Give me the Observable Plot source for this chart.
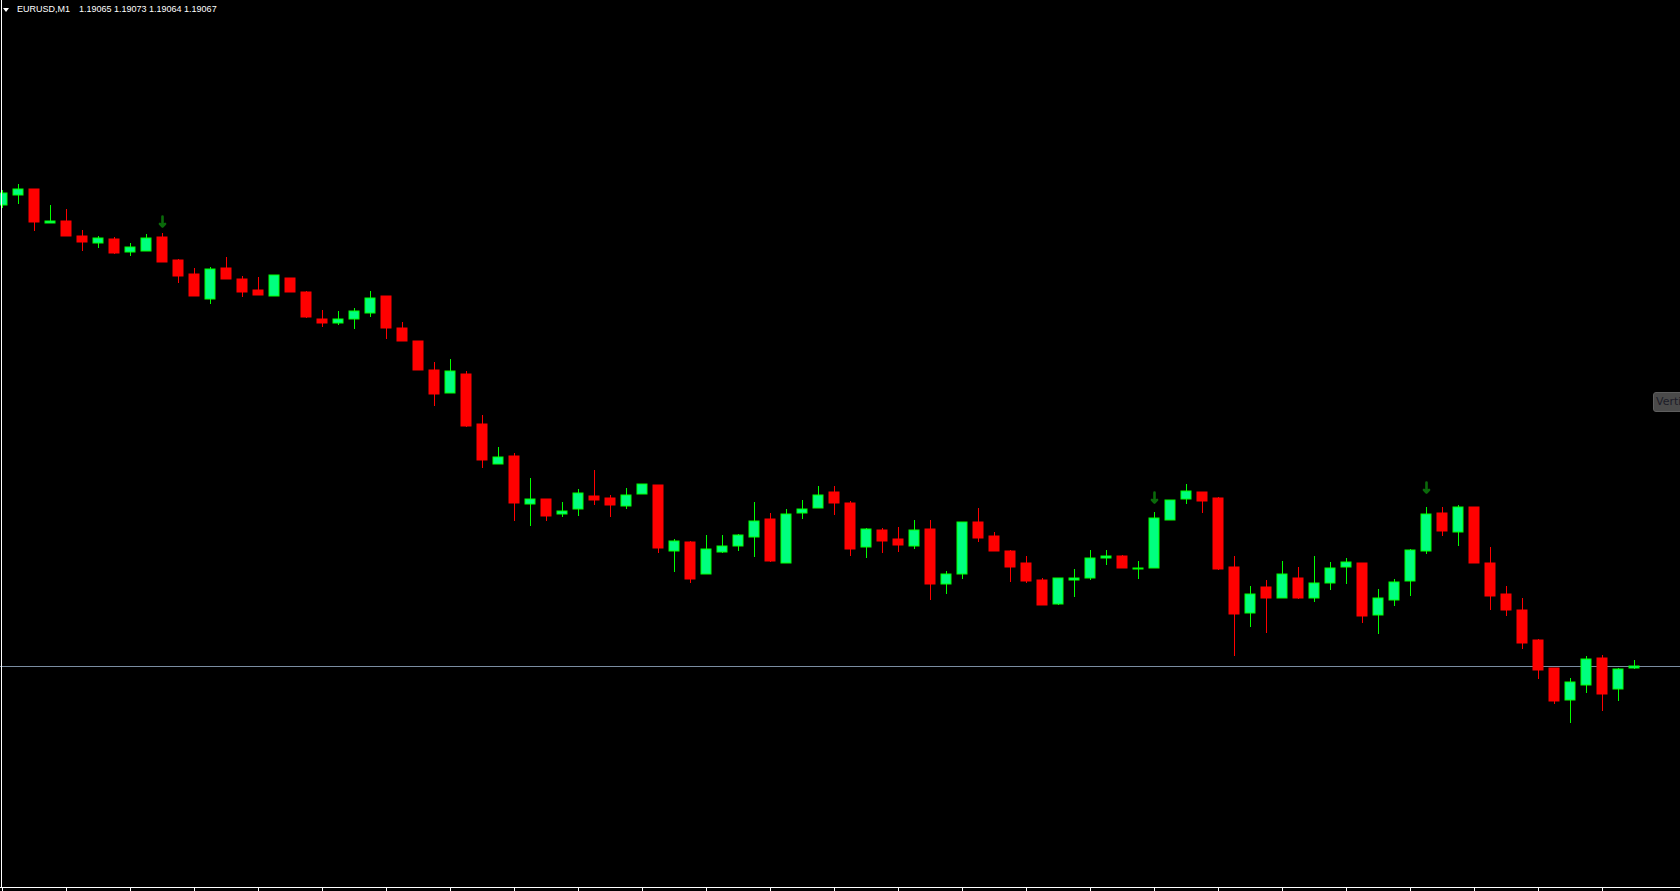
<!DOCTYPE html>
<html>
<head>
<meta charset="utf-8">
<script src="https://cdn.jsdelivr.net/npm/d3@7"></script>
<script src="https://cdn.jsdelivr.net/npm/@observablehq/plot@0.6"></script>
<style>
  html, body { margin: 0; padding: 0; background: #000; overflow: hidden; width: 1680px; height: 891px; }
  #wrap { position: relative; width: 1680px; height: 891px; background: #000; }
  #wrap svg { position: absolute; left: 0; top: 0; display: block; }
  #title { position: absolute; left: 0; top: 0; height: 16px; font: 9px "Liberation Sans", Arial, sans-serif; color: #fff; white-space: pre; }
  #tri { position: absolute; left: 3px; top: 8px; width: 0; height: 0; border-left: 3.5px solid transparent; border-right: 3.5px solid transparent; border-top: 4px solid #fff; }
  #sym { position: absolute; left: 17px; top: 4px; }
  #ohlc { position: absolute; left: 79px; top: 4px; }
  #tip { position: absolute; left: 1653px; top: 392px; width: 60px; height: 18px; background: #4a4a4a; border: 1px solid #5e5e5e; border-radius: 3px; color: #1c1c28; font: 11px "DejaVu Sans", sans-serif; line-height: 18px; padding-left: 2px; white-space: nowrap; overflow: hidden; }
</style>
</head>
<body>
<div id="wrap">
  <div id="title"><div id="tri"></div><span id="sym"></span><span id="ohlc"></span></div>
  <div id="tip"></div>
</div>
<script>
// ---- data ----
const symbol = "EURUSD,M1";
const tipText = "Vertical Line";
const open = [
  1.19528, 1.19538, 1.19544, 1.19510, 1.19512, 1.19497, 1.19490, 1.19494, 1.19481, 1.19482,
  1.19496, 1.19473, 1.19459, 1.19434, 1.19465, 1.19454, 1.19443, 1.19437, 1.19455, 1.19441,
  1.19414, 1.19410, 1.19414, 1.19420, 1.19437, 1.19405, 1.19392, 1.19363, 1.19340, 1.19359,
  1.19309, 1.19269, 1.19277, 1.19229, 1.19234, 1.19219, 1.19224, 1.19237, 1.19235, 1.19227,
  1.19239, 1.19248, 1.19182, 1.19191, 1.19159, 1.19181, 1.19187, 1.19196, 1.19214, 1.19170,
  1.19220, 1.19225, 1.19241, 1.19230, 1.19186, 1.19203, 1.19194, 1.19187, 1.19204, 1.19149,
  1.19159, 1.19211, 1.19197, 1.19182, 1.19170, 1.19153, 1.19129, 1.19153, 1.19155, 1.19175,
  1.19177, 1.19164, 1.19165, 1.19213, 1.19234, 1.19241, 1.19235, 1.19166, 1.19120, 1.19146,
  1.19135, 1.19155, 1.19135, 1.19150, 1.19166, 1.19170, 1.19118, 1.19133, 1.19152, 1.19182,
  1.19220, 1.19201, 1.19226, 1.19170, 1.19139, 1.19123, 1.19093, 1.19065, 1.19033, 1.19048,
  1.19075, 1.19044, 1.19065
];
const high = [
  1.19543, 1.19549, 1.19544, 1.19528, 1.19524, 1.19503, 1.19497, 1.19496, 1.19490, 1.19499,
  1.19500, 1.19474, 1.19465, 1.19466, 1.19476, 1.19457, 1.19456, 1.19458, 1.19455, 1.19442,
  1.19423, 1.19422, 1.19425, 1.19442, 1.19437, 1.19411, 1.19392, 1.19371, 1.19374, 1.19362,
  1.19318, 1.19286, 1.19280, 1.19255, 1.19234, 1.19231, 1.19244, 1.19263, 1.19238, 1.19245,
  1.19249, 1.19248, 1.19194, 1.19192, 1.19198, 1.19198, 1.19199, 1.19231, 1.19220, 1.19224,
  1.19233, 1.19247, 1.19247, 1.19232, 1.19205, 1.19205, 1.19206, 1.19213, 1.19213, 1.19162,
  1.19211, 1.19225, 1.19201, 1.19183, 1.19177, 1.19155, 1.19155, 1.19164, 1.19183, 1.19183,
  1.19178, 1.19172, 1.19221, 1.19233, 1.19249, 1.19241, 1.19236, 1.19177, 1.19147, 1.19153,
  1.19172, 1.19166, 1.19177, 1.19171, 1.19175, 1.19170, 1.19144, 1.19154, 1.19184, 1.19226,
  1.19226, 1.19228, 1.19226, 1.19186, 1.19147, 1.19135, 1.19094, 1.19065, 1.19055, 1.19077,
  1.19078, 1.19065, 1.19073
];
const low = [
  1.19525, 1.19529, 1.19502, 1.19510, 1.19497, 1.19482, 1.19485, 1.19479, 1.19477, 1.19482,
  1.19471, 1.19450, 1.19437, 1.19429, 1.19454, 1.19436, 1.19438, 1.19437, 1.19441, 1.19415,
  1.19406, 1.19408, 1.19404, 1.19416, 1.19394, 1.19392, 1.19363, 1.19327, 1.19340, 1.19306,
  1.19265, 1.19269, 1.19212, 1.19207, 1.19212, 1.19216, 1.19217, 1.19228, 1.19216, 1.19224,
  1.19239, 1.19180, 1.19161, 1.19150, 1.19159, 1.19180, 1.19182, 1.19176, 1.19171, 1.19170,
  1.19214, 1.19225, 1.19218, 1.19177, 1.19175, 1.19180, 1.19181, 1.19184, 1.19133, 1.19139,
  1.19154, 1.19191, 1.19182, 1.19151, 1.19150, 1.19128, 1.19128, 1.19136, 1.19153, 1.19168,
  1.19165, 1.19154, 1.19165, 1.19213, 1.19229, 1.19220, 1.19163, 1.19077, 1.19106, 1.19100,
  1.19135, 1.19134, 1.19131, 1.19143, 1.19149, 1.19110, 1.19099, 1.19127, 1.19137, 1.19179,
  1.19197, 1.19187, 1.19170, 1.19123, 1.19117, 1.19084, 1.19054, 1.19029, 1.19010, 1.19040,
  1.19022, 1.19032, 1.19064
];
const close = [
  1.19540, 1.19544, 1.19511, 1.19512, 1.19497, 1.19491, 1.19495, 1.19480, 1.19486, 1.19495,
  1.19471, 1.19457, 1.19437, 1.19464, 1.19454, 1.19441, 1.19438, 1.19458, 1.19441, 1.19416,
  1.19410, 1.19414, 1.19422, 1.19435, 1.19405, 1.19392, 1.19363, 1.19339, 1.19362, 1.19307,
  1.19273, 1.19276, 1.19230, 1.19234, 1.19217, 1.19222, 1.19240, 1.19233, 1.19228, 1.19238,
  1.19249, 1.19185, 1.19192, 1.19154, 1.19184, 1.19187, 1.19198, 1.19212, 1.19172, 1.19219,
  1.19224, 1.19238, 1.19230, 1.19184, 1.19204, 1.19192, 1.19188, 1.19203, 1.19149, 1.19159,
  1.19211, 1.19195, 1.19182, 1.19166, 1.19152, 1.19128, 1.19155, 1.19155, 1.19175, 1.19177,
  1.19165, 1.19165, 1.19215, 1.19233, 1.19242, 1.19232, 1.19164, 1.19119, 1.19139, 1.19135,
  1.19159, 1.19135, 1.19150, 1.19165, 1.19171, 1.19117, 1.19135, 1.19151, 1.19183, 1.19219,
  1.19202, 1.19226, 1.19170, 1.19137, 1.19123, 1.19090, 1.19063, 1.19032, 1.19051, 1.19074,
  1.19039, 1.19064, 1.19067
];
const arrowBars = [10, 72, 89];
const arrowPrices = [1.19512, 1.19236, 1.19246];
const bidPrice = 1.19067;
const timeTicks = [0, 4, 8, 12, 16, 20, 24, 28, 32, 36, 40, 44, 48, 52, 56, 60, 64, 68, 72, 76, 80, 84, 88, 92, 96, 100];

// ---- chart ----
const bars = open.map((o, i) => ({i, o, h: high[i], l: low[i], c: close[i], up: close[i] >= o}));
const arrows = arrowBars.map((b, j) => ({i: b, p: arrowPrices[j]}));
const half = 5 / 16;

document.getElementById("sym").textContent = symbol;
const last = bars[bars.length - 1];
document.getElementById("ohlc").textContent =
  [last.o, last.h, last.l, last.c].map(v => v.toFixed(5)).join(" ");
document.getElementById("tip").textContent = tipText;

const chart = Plot.plot({
  width: 1680,
  height: 891,
  marginTop: 0,
  marginLeft: 0,
  marginRight: 0,
  marginBottom: 4,
  style: {background: "#000", color: "#fff", overflow: "visible"},
  x: {type: "linear", domain: [-0.125, 104.875], range: [0, 1680], axis: null, label: null},
  y: {type: "linear", domain: [1.18842, 1.19733], range: [891, 0], axis: null, label: null},
  marks: [
    Plot.ruleY([bidPrice], {y: d => d, stroke: "#7A8CA0", strokeWidth: 1}),
    Plot.ruleX(bars, {x: "i", y1: "l", y2: "h", stroke: d => d.up ? "#00FF00" : "#FF0000", strokeWidth: 1}),
    Plot.rect(bars, {
      x1: d => d.i - half, x2: d => d.i + half,
      y1: "o", y2: "c",
      fill: d => d.up ? "#00FF7F" : "#FF0000",
      stroke: d => d.up ? "#00FF00" : "#FF0000",
      strokeWidth: 1
    }),
    Plot.vector(arrows, {x: "i", y: "p", length: 10, rotate: 180, anchor: "middle", stroke: "#0A6A0A", strokeWidth: 2.6, r: 4.5}),
    Plot.frame({anchor: "left", stroke: "#fff", dx: 1}),
    Plot.frame({anchor: "bottom", stroke: "#fff"}),
    Plot.axisX(timeTicks, {tickSize: 4, tickFormat: () => "", stroke: "#fff", anchor: "bottom", label: null})
  ]
});
document.getElementById("wrap").prepend(chart);
</script>
</body>
</html>
